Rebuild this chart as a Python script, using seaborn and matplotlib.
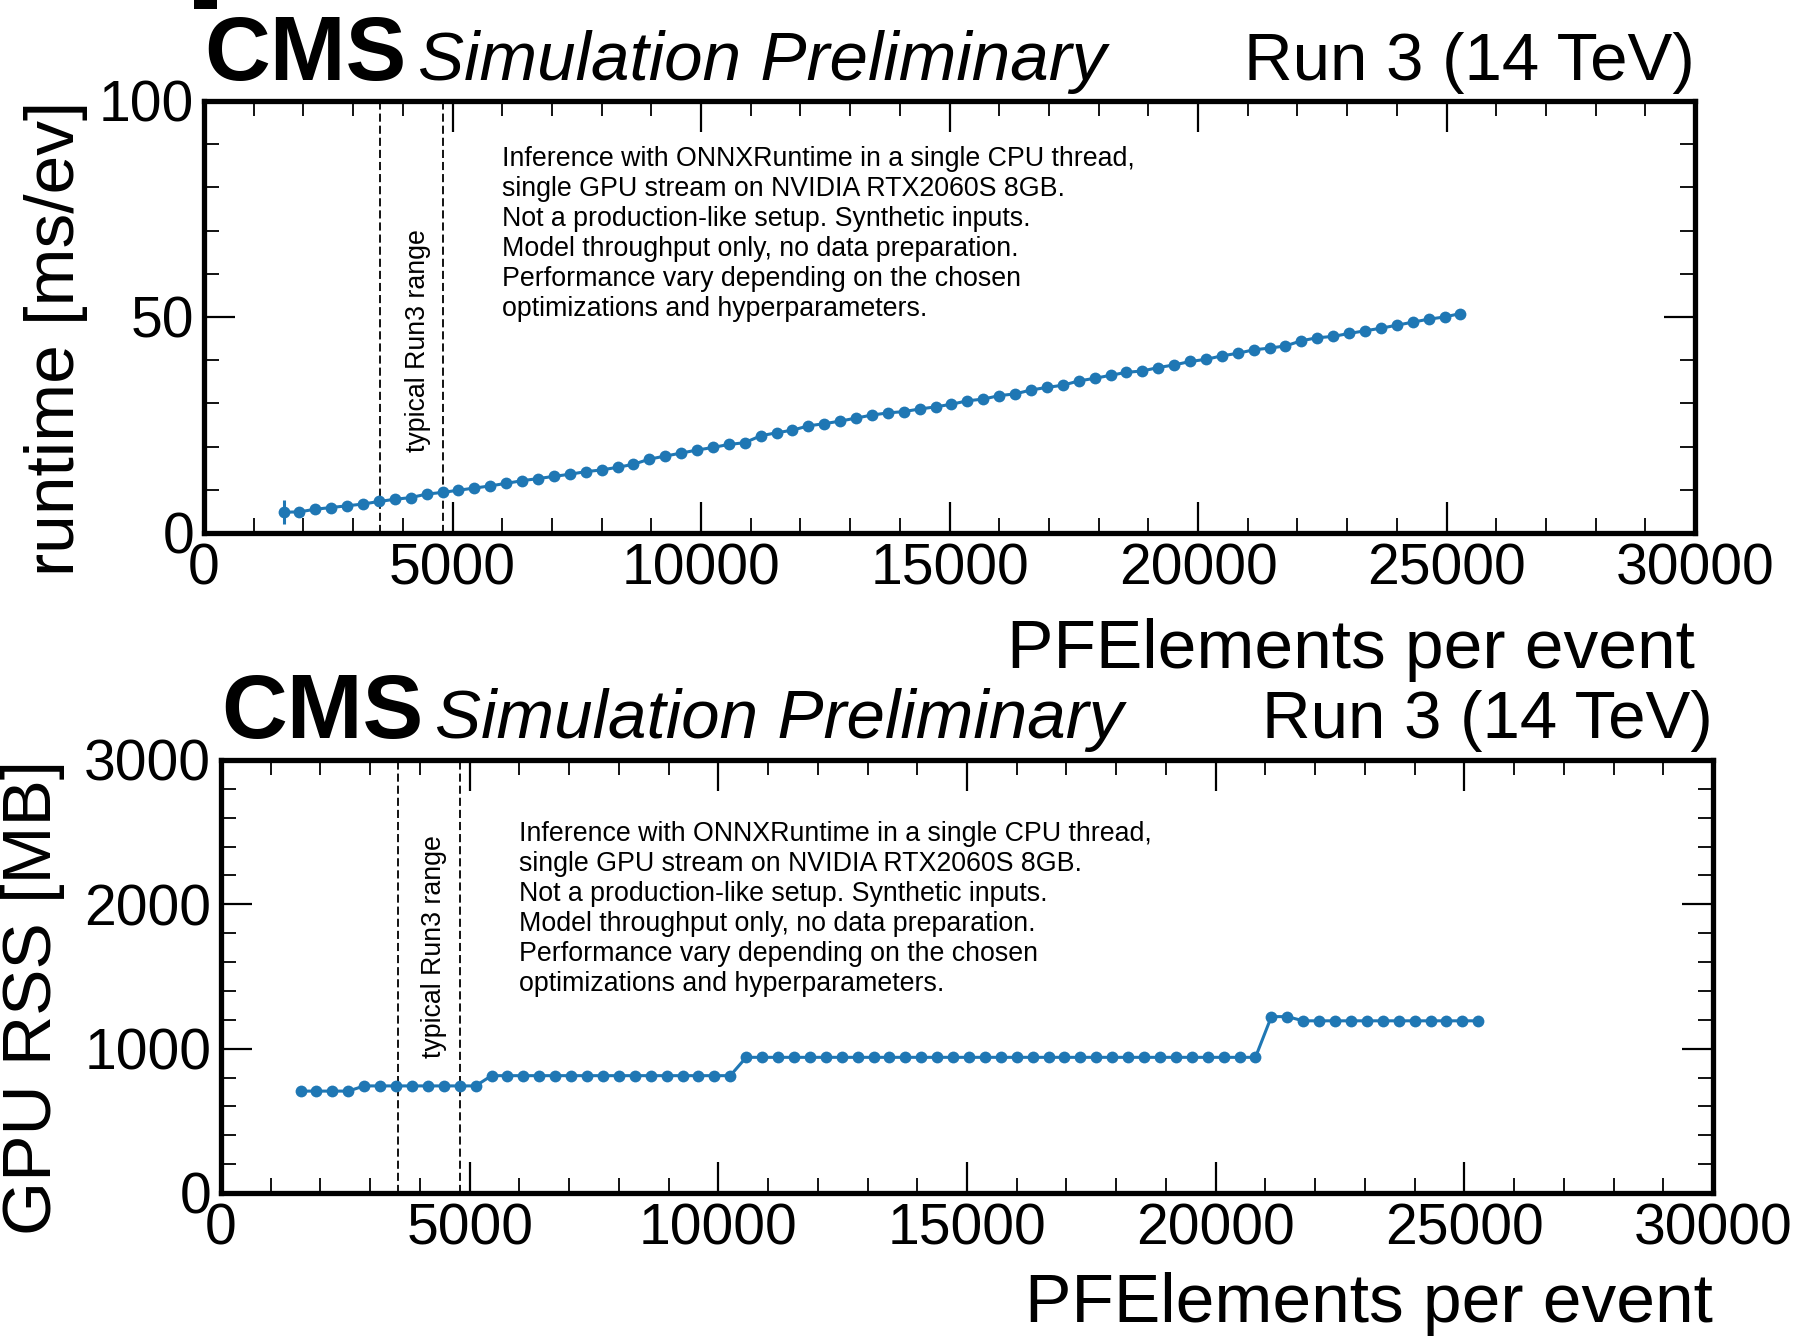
import matplotlib
matplotlib.use("Agg")
import matplotlib.pyplot as plt
from matplotlib.patches import Rectangle
from matplotlib.ticker import MultipleLocator
import seaborn as sns
import pandas as pd

# Number of PF elements per event (benchmark points)
pf_elements = [
    1600, 1920, 2240, 2560, 2880, 3200, 3520, 3840, 4160, 4480,
    4800, 5120, 5440, 5760, 6080, 6400, 6720, 7040, 7360, 7680,
    8000, 8320, 8640, 8960, 9280, 9600, 9920, 10240, 10560, 10880,
    11200, 11520, 11840, 12160, 12480, 12800, 13120, 13440, 13760, 14080,
    14400, 14720, 15040, 15360, 15680, 16000, 16320, 16640, 16960, 17280,
    17600, 17920, 18240, 18560, 18880, 19200, 19520, 19840, 20160, 20480,
    20800, 21120, 21440, 21760, 22080, 22400, 22720, 23040, 23360, 23680,
    24000, 24320, 24640, 24960, 25280,
]

# Inference runtime per event [ms]
runtime_ms = [
    4.8, 4.9, 5.5, 5.9, 6.3, 6.7, 7.3, 7.8, 8.2, 9.0,
    9.4, 9.9, 10.4, 10.9, 11.5, 12.1, 12.6, 13.1, 13.6, 14.2,
    14.6, 15.2, 15.9, 17.1, 17.8, 18.5, 19.2, 19.8, 20.5, 20.9,
    22.5, 23.2, 23.8, 24.8, 25.3, 25.9, 26.6, 27.3, 27.8, 28.1,
    28.7, 29.2, 29.8, 30.6, 31.0, 31.8, 32.2, 33.1, 33.7, 34.2,
    35.2, 35.8, 36.5, 37.2, 37.5, 38.3, 38.9, 39.7, 40.2, 41.0,
    41.6, 42.4, 42.8, 43.3, 44.5, 45.2, 45.5, 46.2, 46.8, 47.4,
    48.1, 48.8, 49.5, 50.0, 50.8,
]

# Spread of the runtime measurement [ms]
runtime_err = [
    2.8, 0.8, 0.5, 0.4, 0.4, 0.4, 0.4, 0.4, 0.4, 0.4,
    0.4, 0.4, 0.4, 0.4, 0.4, 0.4, 0.4, 0.4, 0.4, 0.4,
    0.4, 0.4, 0.4, 0.4, 0.4, 0.4, 0.4, 0.4, 0.4, 0.4,
    0.4, 0.4, 0.4, 0.4, 0.4, 0.4, 0.4, 0.4, 0.4, 0.4,
    0.4, 0.4, 0.4, 0.4, 0.4, 0.4, 0.4, 0.4, 0.4, 0.4,
    0.4, 0.4, 0.4, 0.4, 0.4, 0.4, 0.4, 0.4, 0.4, 0.4,
    0.4, 0.4, 0.4, 0.4, 0.4, 0.4, 0.4, 0.4, 0.4, 0.4,
    0.4, 0.4, 0.4, 0.4, 0.4,
]

# GPU resident memory [MB]
gpu_rss_mb = [
    706, 706, 706, 706, 742, 742, 742, 742, 742, 742,
    742, 742, 813, 813, 813, 813, 813, 813, 813, 813,
    813, 813, 813, 813, 813, 813, 813, 813, 940, 940,
    940, 940, 940, 940, 940, 940, 940, 940, 940, 940,
    940, 940, 940, 940, 940, 940, 940, 940, 940, 940,
    940, 940, 940, 940, 940, 940, 940, 940, 940, 940,
    940, 1222, 1222, 1193, 1193, 1193, 1193, 1193, 1193, 1193,
    1193, 1193, 1193, 1193, 1193,
]

run3_range = [3550, 4800]
run3_label = "typical Run3 range"

note_lines = [
    "Inference with ONNXRuntime in a single CPU thread,",
    "single GPU stream on NVIDIA RTX2060S 8GB.",
    "Not a production-like setup. Synthetic inputs.",
    "Model throughput only, no data preparation.",
    "Performance vary depending on the chosen",
    "optimizations and hyperparameters.",
]

df = pd.DataFrame({
    "pf": pf_elements,
    "runtime": runtime_ms,
    "err": runtime_err,
    "rss": gpu_rss_mb,
})

sns.set_style("ticks")
plt.rcParams.update({
    "axes.linewidth": 3.8,
    "axes.edgecolor": "black",
    "text.color": "black",
    "axes.labelcolor": "black",
    "xtick.color": "black", "ytick.color": "black",
    "xtick.major.size": 22, "ytick.major.size": 22,
    "xtick.minor.size": 11, "ytick.minor.size": 11,
    "xtick.major.width": 1.6, "ytick.major.width": 1.6,
    "xtick.minor.width": 1.3, "ytick.minor.width": 1.3,
    "xtick.major.pad": 7, "ytick.major.pad": 7,
    "xtick.labelsize": 41, "ytick.labelsize": 41,
    "axes.labelsize": 50,
})
plt.rcParams["font.family"] = ["Liberation Sans", "DejaVu Sans"]

W, H = 1794, 1338
fig = plt.figure(figsize=(W / 100, H / 100), dpi=100)
ax_top = fig.add_axes([204 / W, 1 - 533 / H, (1695 - 204) / W, (533 - 101) / H])
ax_bot = fig.add_axes([221 / W, 1 - 1193 / H, (1713 - 221) / W, (1193 - 760) / H])

blue = "#1f77b4"


def style_axes(ax, ylabel, ymax, ymajor, yminor, ylab_x, xlab_y, head_y):
    ax.set_xlim(0, 30000)
    ax.set_ylim(0, ymax)
    ax.xaxis.set_major_locator(MultipleLocator(5000))
    ax.xaxis.set_minor_locator(MultipleLocator(1000))
    ax.yaxis.set_major_locator(MultipleLocator(ymajor))
    ax.yaxis.set_minor_locator(MultipleLocator(yminor))
    ax.tick_params(which="both", direction="in", top=True, right=True, colors="black")
    for s in ax.spines.values():
        s.set_visible(True)
        s.set_color("black")
    ax.set_xlabel("PFElements per event", loc="right")
    ax.set_ylabel(ylabel, loc="top")
    ax.xaxis.set_label_coords(1.0, xlab_y)
    ax.yaxis.set_label_coords(ylab_x, 1.0)
    ax.text(0.0, head_y, "CMS", transform=ax.transAxes, fontsize=65.5,
            fontweight="bold", va="baseline", ha="left")
    ax.text(0.1434, head_y, "Simulation Preliminary", transform=ax.transAxes,
            fontsize=49.8, fontstyle="italic", va="baseline", ha="left")
    ax.text(1.0, head_y, "Run 3 (14 TeV)", transform=ax.transAxes,
            fontsize=48.4, va="baseline", ha="right")
    for xv in run3_range:
        ax.axvline(xv, color="black", lw=1.3, ls=(0, (4.5, 2.2)), zorder=1)


# Runtime panel
sns.lineplot(data=df, x="pf", y="runtime", ax=ax_top, color=blue, marker="o",
             markersize=8.5, markeredgewidth=0, linewidth=2.2, zorder=3)
ax_top.errorbar(df["pf"], df["runtime"], yerr=df["err"], fmt="none",
                ecolor=blue, elinewidth=2.2, capsize=0, zorder=3)
style_axes(ax_top, "runtime [ms/ev]", 100, 50, 10, -0.0778, -0.197, 1.0486)
ax_top.text(4300, 44.6, run3_label, rotation=90, fontsize=19.3,
            ha="center", va="center")
ax_top.text(6000, 89.5, "\n".join(note_lines), fontsize=19.3, ha="left",
            va="top", linespacing=1.2)

# GPU memory panel
sns.lineplot(data=df, x="pf", y="rss", ax=ax_bot, color=blue, marker="o",
             markersize=8.5, markeredgewidth=0, linewidth=2.2, zorder=3)
style_axes(ax_bot, "GPU RSS [MB]", 3000, 1000, 200, -0.1046, -0.182, 1.051)
ax_bot.text(4290, 1710, run3_label, rotation=90, fontsize=19.3,
            ha="center", va="center")
ax_bot.text(6000, 2575, "\n".join(note_lines), fontsize=19.3, ha="left",
            va="top", linespacing=1.2)

# clipped glyph remnant along the top edge
fig.add_artist(Rectangle((194 / W, 1 - 9 / H), 23 / W, 9 / H,
                         transform=fig.transFigure, color="black", lw=0))

fig.savefig("out.png", dpi=100)
